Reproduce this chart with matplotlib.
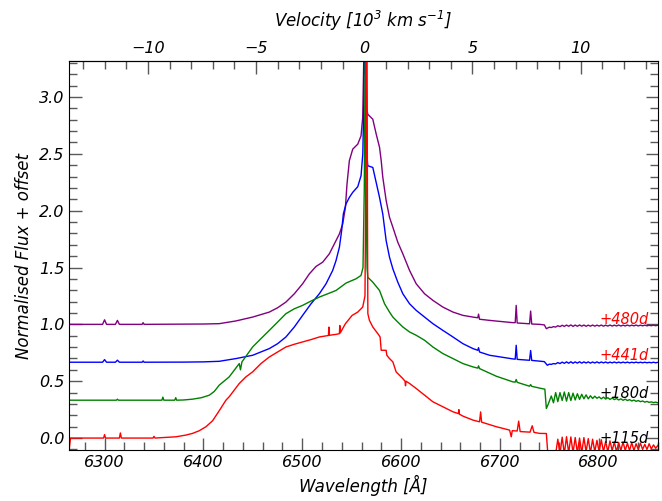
import numpy as np
from matplotlib import pyplot as plt
from matplotlib.ticker import MultipleLocator, FixedLocator

C_KMS = 299792.458
HALPHA = 6562.8

# (wavelength [A], normalised flux + offset) for each epoch, up to ~6750 A
spec_480 = [
    (6264, 1.0), (6298, 1.0), (6300, 1.04), (6302, 1.0), (6311, 1.0), (6313, 1.035),
    (6315, 1.0), (6338, 1.0), (6339, 1.015), (6340, 1.0), (6380, 1.002), (6400, 1.003),
    (6416.0, 1.006), (6432.9, 1.03), (6449.8, 1.064), (6466.7, 1.108), (6475.1, 1.146),
    (6483.5, 1.196), (6492.0, 1.269), (6500.4, 1.357), (6507.2, 1.444), (6513.9, 1.509),
    (6520.7, 1.547), (6527.4, 1.62), (6534.2, 1.737), (6537.6, 1.795), (6541.0, 1.884),
    (6543.7, 2.03), (6545.3, 2.234), (6547.7, 2.44), (6551.1, 2.541), (6556.2, 2.585),
    (6559.5, 2.658), (6561.2, 2.82), (6562.2, 3.3), (6563.0, 4.5), (6564.3, 3.3),
    (6565.3, 2.9), (6566.3, 2.848), (6571.4, 2.804), (6574.8, 2.675), (6578.2, 2.558),
    (6579.9, 2.44), (6581.5, 2.295), (6584.9, 2.09), (6588.3, 1.942), (6591.7, 1.854),
    (6596.7, 1.722), (6601.8, 1.62), (6608.6, 1.474), (6615.3, 1.357), (6623.8, 1.269),
    (6632.2, 1.211), (6642.3, 1.152), (6652.5, 1.108), (6662.6, 1.079), (6672.7, 1.064),
    (6677.6, 1.058), (6678.4, 1.09), (6679.4, 1.045), (6689.6, 1.035), (6696.3, 1.029),
    (6713.2, 1.015), (6715.5, 1.015), (6716.5, 1.167), (6717.5, 1.012), (6730.0, 1.005),
    (6731.1, 1.117), (6732.2, 1.003), (6740.2, 1.0), (6745, 0.995), (6747, 0.962),
    (6750, 0.975),
]
spec_441 = [
    (6264, 0.667), (6298, 0.667), (6300, 0.69), (6302, 0.667), (6311, 0.667), (6313, 0.685),
    (6315, 0.667), (6338, 0.667), (6339, 0.678), (6340, 0.667), (6380, 0.668), (6400, 0.67),
    (6416.0, 0.675), (6432.9, 0.699), (6449.8, 0.728), (6466.7, 0.787), (6475.1, 0.83),
    (6483.5, 0.889), (6492.0, 0.977), (6500.4, 1.079), (6508.9, 1.181), (6517.3, 1.269),
    (6524.1, 1.357), (6530.8, 1.474), (6534.2, 1.561), (6537.6, 1.678), (6539.9, 1.825),
    (6541.6, 1.971), (6544.3, 2.059), (6547.7, 2.117), (6551.1, 2.161), (6556.2, 2.211),
    (6559.5, 2.307), (6561.3, 2.5), (6562.4, 3.0), (6563.2, 4.5), (6564.3, 3.0),
    (6565.3, 2.5), (6566.3, 2.395), (6571.4, 2.38), (6574.8, 2.249), (6578.2, 2.117),
    (6581.5, 1.971), (6584.9, 1.737), (6588.3, 1.591), (6591.7, 1.488), (6596.7, 1.371),
    (6601.8, 1.269), (6608.6, 1.181), (6615.3, 1.123), (6623.8, 1.064), (6632.2, 1.006),
    (6642.3, 0.947), (6652.5, 0.889), (6662.6, 0.83), (6672.7, 0.787), (6677.6, 0.772),
    (6678.4, 0.795), (6679.4, 0.757), (6689.6, 0.728), (6696.3, 0.719), (6713.2, 0.696),
    (6715.5, 0.694), (6716.5, 0.816), (6717.5, 0.692), (6730.0, 0.684), (6731.1, 0.77),
    (6732.2, 0.683), (6741.9, 0.675), (6745, 0.672), (6748, 0.64), (6750, 0.65),
]
spec_180 = [
    (6264, 0.333), (6300, 0.333), (6312, 0.333), (6313, 0.342), (6314, 0.333), (6358, 0.333),
    (6359, 0.36), (6360, 0.333), (6371, 0.333), (6372, 0.355), (6373, 0.333), (6380, 0.335),
    (6389, 0.342), (6398, 0.355), (6406, 0.377), (6411, 0.41), (6416.0, 0.465),
    (6426.1, 0.538), (6436.3, 0.655), (6437.5, 0.60), (6439, 0.67), (6449.8, 0.801),
    (6458.2, 0.874), (6466.7, 0.947), (6475.1, 1.02), (6483.5, 1.094), (6492.0, 1.137),
    (6500.4, 1.167), (6508.9, 1.205), (6517.3, 1.24), (6525.8, 1.269), (6534.2, 1.298),
    (6544.3, 1.363), (6554.5, 1.401), (6559.5, 1.43), (6561.5, 1.5), (6562.8, 2.2),
    (6563.8, 3.5), (6564.8, 2.0), (6565.6, 1.5), (6566.3, 1.415), (6571.4, 1.371),
    (6578.2, 1.298), (6583.3, 1.181), (6588.3, 1.108), (6591.7, 1.064), (6596.7, 1.02),
    (6601.8, 0.977), (6608.6, 0.933), (6615.3, 0.904), (6623.8, 0.86), (6632.2, 0.801),
    (6642.3, 0.743), (6652.5, 0.699), (6662.6, 0.655), (6672.7, 0.626), (6677.6, 0.615),
    (6678.4, 0.635), (6679.4, 0.611), (6696.3, 0.544), (6713.2, 0.494), (6715.5, 0.492),
    (6716.5, 0.515), (6717.5, 0.49), (6730.0, 0.456), (6731.1, 0.47), (6732.2, 0.455),
    (6741.9, 0.436), (6745.5, 0.43), (6747, 0.26), (6749, 0.30),
]
spec_115 = [
    (6264, -0.12), (6265.5, 0.0), (6299, 0.0), (6300, 0.03), (6301, 0.0), (6315, 0.0),
    (6316, 0.045), (6317, 0.0), (6349, 0.0), (6350, 0.015), (6351, 0.0), (6372.1, 0.011),
    (6382.2, 0.026), (6389.0, 0.041), (6395.7, 0.064), (6402.5, 0.099), (6409.3, 0.152),
    (6416.0, 0.24), (6422.8, 0.333), (6426.1, 0.363), (6436.3, 0.48), (6443.0, 0.538),
    (6449.8, 0.582), (6458.2, 0.655), (6466.7, 0.713), (6475.1, 0.757), (6483.5, 0.801),
    (6492.0, 0.825), (6500.4, 0.845), (6508.9, 0.866), (6517.3, 0.889), (6526.5, 0.902),
    (6527.0, 0.976), (6527.5, 0.904), (6534.2, 0.912), (6537.6, 0.918), (6538.0, 0.99),
    (6538.5, 0.925), (6543.7, 1.006), (6550.5, 1.079), (6556.2, 1.108), (6561.2, 1.152),
    (6563.5, 1.25), (6564.5, 2.5), (6565.3, 4.5), (6566.0, 2.0), (6566.4, 1.094),
    (6568.0, 1.035), (6571.4, 0.977), (6576.5, 0.918), (6578.8, 0.889), (6579.9, 0.772),
    (6584.9, 0.772), (6585.6, 0.728), (6588.3, 0.699), (6591.7, 0.67), (6593.4, 0.626),
    (6595.0, 0.582), (6598.4, 0.553), (6601.8, 0.523), (6604.0, 0.50), (6604.5, 0.46),
    (6605.0, 0.50), (6608.6, 0.48), (6615.3, 0.436), (6623.8, 0.377), (6632.2, 0.319),
    (6642.3, 0.275), (6652.5, 0.231), (6658.0, 0.215), (6658.5, 0.25), (6659.0, 0.21),
    (6662.6, 0.193), (6672.7, 0.158), (6679.4, 0.143), (6680.5, 0.23), (6681.5, 0.14),
    (6696.3, 0.1), (6709.8, 0.07), (6711.5, 0.011), (6712.5, 0.065), (6717.5, 0.062),
    (6719.0, 0.149), (6720.5, 0.057), (6730.5, 0.052), (6732.7, 0.108), (6734.5, 0.05),
    (6740.2, 0.041), (6747, 0.04), (6748.6, -0.15),
]

# red end (telluric band region), sampled every 2.2 A from 6752 A
tail_wave = np.arange(6752, 6861, 2.2)
tail_480 = [
    0.972, 0.980, 0.976, 0.988, 0.980, 0.992, 0.982, 0.994, 0.983, 0.995,
    0.982, 0.994, 0.983, 0.995, 0.984, 0.994, 0.983, 0.993, 0.984, 0.994,
    0.984, 0.993, 0.985, 0.994, 0.984, 0.993, 0.985, 0.994, 0.985, 0.993,
    0.986, 0.994, 0.985, 0.993, 0.986, 0.994, 0.986, 0.993, 0.987, 0.994,
    0.986, 0.993, 0.987, 0.993, 0.987, 0.992, 0.988, 0.993, 0.988, 0.992,
]
tail_441 = [
    0.648, 0.655, 0.652, 0.664, 0.655, 0.668, 0.657, 0.670, 0.658, 0.671,
    0.658, 0.670, 0.659, 0.671, 0.659, 0.670, 0.660, 0.670, 0.659, 0.669,
    0.660, 0.670, 0.660, 0.669, 0.661, 0.669, 0.660, 0.668, 0.661, 0.669,
    0.661, 0.668, 0.661, 0.668, 0.662, 0.668, 0.661, 0.667, 0.662, 0.668,
    0.662, 0.667, 0.662, 0.667, 0.662, 0.666, 0.662, 0.667, 0.662, 0.666,
]
tail_180 = [
    0.37, 0.31, 0.40, 0.32, 0.40, 0.33, 0.405, 0.325, 0.40, 0.33,
    0.395, 0.335, 0.39, 0.34, 0.385, 0.345, 0.38, 0.345, 0.372, 0.348,
    0.368, 0.35, 0.362, 0.345, 0.36, 0.343, 0.355, 0.34, 0.352, 0.338,
    0.348, 0.335, 0.345, 0.332, 0.342, 0.33, 0.338, 0.326, 0.334, 0.323,
    0.33, 0.32, 0.326, 0.316, 0.322, 0.314, 0.318, 0.312, 0.316, 0.31,
]
tail_115 = [
    -0.15, -0.15, -0.14, -0.01, -0.14, 0.008, -0.14, 0.012, -0.13, 0.01,
    -0.13, 0.005, -0.13, 0.0, -0.13, 0.004, -0.12, -0.005, -0.13, -0.01,
    -0.12, -0.02, -0.12, -0.015, -0.12, -0.03, -0.12, -0.025, -0.11, -0.035,
    -0.12, -0.04, -0.11, -0.035, -0.11, -0.045, -0.11, -0.04, -0.11, -0.05,
    -0.10, -0.045, -0.10, -0.055, -0.10, -0.05, -0.095, -0.06, -0.09, -0.065,
]

epochs = ['+480d', '+441d', '+180d', '+115d']
line_colours = ['purple', 'blue', 'green', 'red']
label_colours = ['red', 'red', 'black', 'black']
label_y = [1.0, 0.684, 0.352, -0.045]
vel_ticks = [-10, -5, 0, 5, 10]


def wave2vel(w):
    return (np.asarray(w) / HALPHA - 1.0) * C_KMS / 1e3


def vel2wave(v):
    return (np.asarray(v) * 1e3 / C_KMS + 1.0) * HALPHA


plt.rcParams['font.family'] = 'DejaVu Sans'
plt.rcParams['font.style'] = 'italic'
plt.rcParams['font.size'] = 12
plt.rcParams['mathtext.fontset'] = 'dejavusans'
plt.rcParams['mathtext.default'] = 'it'

fig, ax = plt.subplots(figsize=(6.62, 5.01), dpi=100)
fig.subplots_adjust(left=0.1042, right=0.994, bottom=0.1018, top=0.8782)

specs = [spec_480, spec_441, spec_180, spec_115]
tails = [tail_480, tail_441, tail_180, tail_115]
for spec, tail, colour in zip(specs, tails, line_colours):
    w, f = np.array(spec).T
    w = np.concatenate([w, tail_wave])
    f = np.concatenate([f, tail])
    ax.plot(w, f, color=colour, lw=1.0)

for name, y, colour in zip(epochs, label_y, label_colours):
    ax.text(6801, y, name, color=colour, fontsize=10.5, ha='left', va='baseline')

ax.set_xlim(6264, 6860)
ax.set_ylim(-0.105, 3.316)
ax.set_xlabel('Wavelength [Å]')
ax.set_ylabel('Normalised Flux + offset')

ax.xaxis.set_major_locator(MultipleLocator(100))
ax.xaxis.set_minor_locator(MultipleLocator(20))
ax.yaxis.set_major_locator(MultipleLocator(0.5))
ax.yaxis.set_minor_locator(MultipleLocator(0.1))
ax.tick_params(which='both', direction='in', top=False, right=True, color='0.35',
               width=1.0, labelsize=11.5)
ax.tick_params(which='major', length=9)
ax.tick_params(which='minor', length=5.5)

secax = ax.secondary_xaxis('top', functions=(wave2vel, vel2wave))
secax.set_xlabel('Velocity [10$^{3}$ km s$^{-1}$]', labelpad=10)
secax.xaxis.set_major_locator(FixedLocator(vel_ticks))
secax.xaxis.set_minor_locator(MultipleLocator(1))
secax.tick_params(which='both', direction='in', color='0.35', width=1.0, labelsize=11.5)
secax.tick_params(which='major', length=9)
secax.tick_params(which='minor', length=5.5)

fig.savefig('out.png', dpi=100)
